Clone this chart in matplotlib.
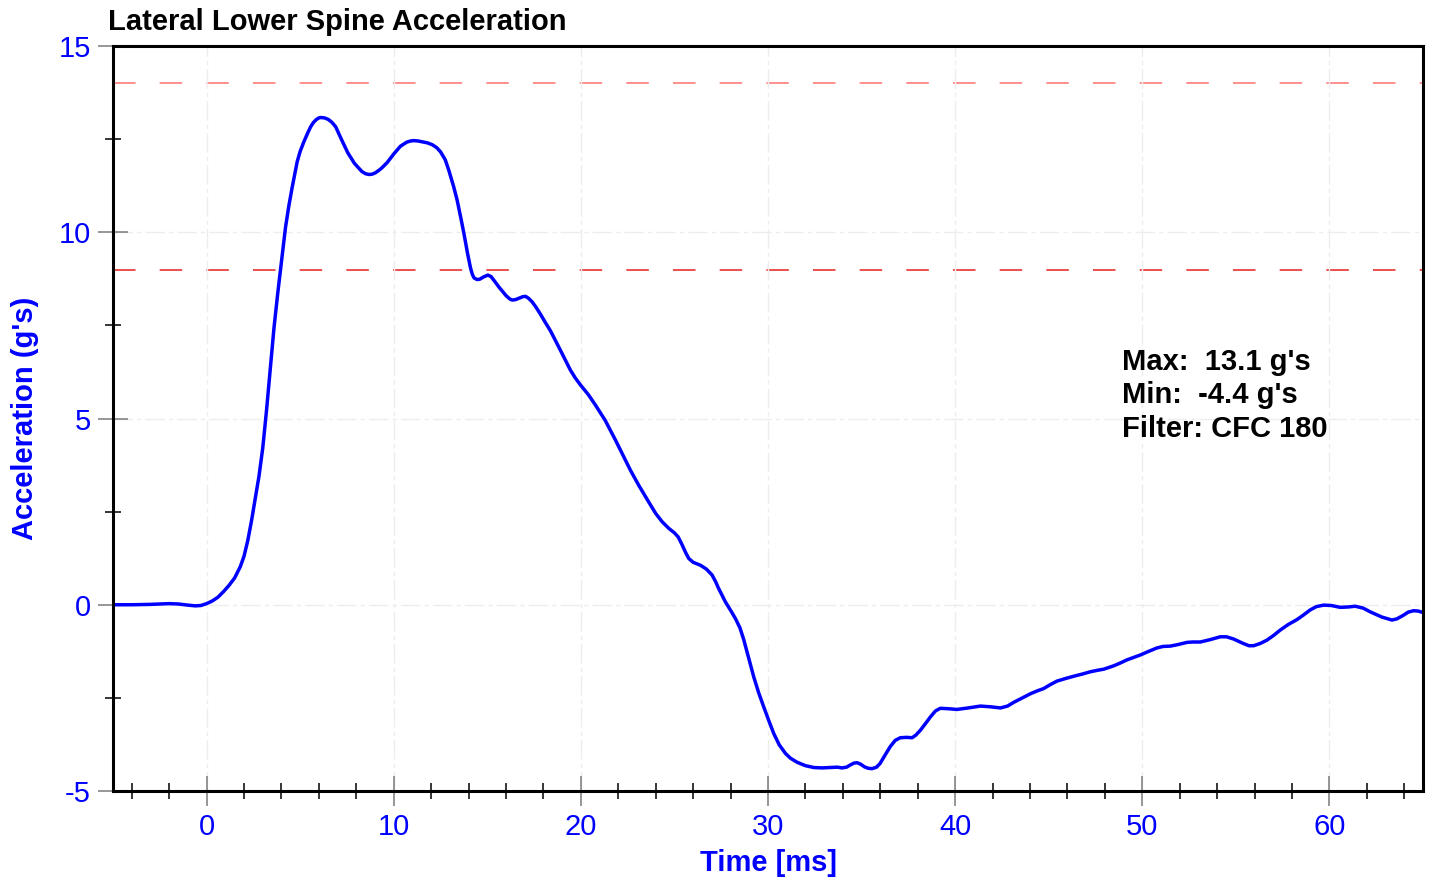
import matplotlib
matplotlib.use("Agg")
import matplotlib.pyplot as plt
from matplotlib.ticker import MultipleLocator

plt.rcParams['font.family'] = ['Liberation Sans', 'DejaVu Sans']
plt.rcParams['axes.unicode_minus'] = False

# Lateral lower spine acceleration trace (time in ms, acceleration in g's)
time_ms = [
    -5.0, -4.0, -3.0, -2.0, -1.5, -1.0, -0.6, -0.3, 0.0, 0.3, 0.6, 0.9, 1.2,
    1.5, 1.8, 2.0, 2.2, 2.4, 2.6, 2.8, 3.0, 3.2, 3.4, 3.6, 3.8, 4.0, 4.22,
    4.4, 4.58, 4.84, 5.0, 5.2, 5.4, 5.56, 5.7, 5.85, 6.0, 6.1, 6.3, 6.5,
    6.7, 6.9, 7.2, 7.55, 7.9, 8.3, 8.5, 8.7, 8.85, 9.0, 9.2, 9.35, 9.65,
    10.0, 10.36, 10.7, 10.9, 11.07, 11.3, 11.5, 11.8, 12.06, 12.3, 12.5,
    12.75, 12.94, 13.2, 13.39, 13.6, 13.75, 13.95, 14.1, 14.2, 14.3, 14.46,
    14.6, 14.8, 15.03, 15.2, 15.4, 15.62, 16.0, 16.2, 16.33, 16.5, 16.7,
    16.9, 17.04, 17.2, 17.4, 17.6, 17.84, 18.1, 18.38, 18.91, 19.44, 19.7,
    19.98, 20.4, 20.78, 21.3, 21.85, 22.65, 23.1, 23.6, 24.0, 24.34, 24.7,
    25.0, 25.2, 25.4, 25.6, 25.77, 26.0, 26.39, 26.7, 27.01, 27.2, 27.35,
    27.72, 28.0, 28.26, 28.5, 28.7, 28.95, 29.24, 29.5, 29.77, 30.05,
    30.31, 30.6, 30.93, 31.2, 31.56, 32.0, 32.45, 32.9, 33.33, 33.7, 33.96,
    34.2, 34.4, 34.6, 34.76, 34.95, 35.15, 35.35, 35.56, 35.8, 35.99,
    36.25, 36.53, 36.8, 37.07, 37.4, 37.7, 37.9, 38.14, 38.4, 38.68, 38.95,
    39.21, 39.6, 40.1, 40.7, 41.35, 41.9, 42.42, 42.8, 43.13, 43.6, 44.02,
    44.4, 44.73, 45.1, 45.44, 45.9, 46.33, 46.8, 47.22, 47.6, 47.94, 48.47,
    48.8, 49.18, 49.5, 49.89, 50.3, 50.78, 51.1, 51.5, 51.9, 52.39, 52.7,
    53.1, 53.6, 54.17, 54.5, 54.88, 55.4, 55.7, 55.95, 56.3, 56.66, 57.0,
    57.37, 57.8, 58.26, 58.6, 58.97, 59.3, 59.69, 60.1, 60.58, 61.0, 61.38,
    61.8, 62.18, 62.8, 63.34, 63.6, 63.96, 64.2, 64.49, 64.75, 65.0,
]
accel_g = [
    0.00, 0.00, 0.01, 0.03, 0.02, -0.01, -0.03, -0.02, 0.03, 0.10, 0.20,
    0.35, 0.52, 0.72, 1.02, 1.30, 1.72, 2.25, 2.85, 3.45, 4.20, 5.20, 6.30,
    7.42, 8.35, 9.20, 10.14, 10.72, 11.22, 11.89, 12.17, 12.43, 12.66,
    12.83, 12.94, 13.02, 13.07, 13.08, 13.07, 13.03, 12.95, 12.83, 12.50,
    12.13, 11.85, 11.63, 11.57, 11.55, 11.56, 11.59, 11.66, 11.72, 11.87,
    12.10, 12.31, 12.42, 12.45, 12.46, 12.45, 12.43, 12.40, 12.35, 12.27,
    12.16, 11.95, 11.67, 11.23, 10.86, 10.35, 9.97, 9.42, 9.05, 8.87, 8.77,
    8.73, 8.74, 8.80, 8.85, 8.81, 8.68, 8.53, 8.30, 8.21, 8.18, 8.19, 8.23,
    8.27, 8.28, 8.23, 8.13, 7.99, 7.80, 7.58, 7.35, 6.83, 6.30, 6.09, 5.90,
    5.64, 5.36, 4.95, 4.42, 3.61, 3.20, 2.78, 2.45, 2.23, 2.05, 1.93, 1.82,
    1.62, 1.40, 1.24, 1.14, 1.06, 0.96, 0.80, 0.62, 0.45, 0.08, -0.15,
    -0.37, -0.62, -0.93, -1.40, -1.94, -2.36, -2.74, -3.12, -3.46, -3.76,
    -3.99, -4.12, -4.23, -4.32, -4.37, -4.38, -4.37, -4.36, -4.38, -4.36,
    -4.30, -4.25, -4.24, -4.28, -4.35, -4.39, -4.40, -4.36, -4.26, -4.04,
    -3.81, -3.64, -3.57, -3.56, -3.57, -3.50, -3.37, -3.20, -3.01, -2.85,
    -2.78, -2.79, -2.81, -2.77, -2.72, -2.74, -2.77, -2.72, -2.62, -2.50,
    -2.39, -2.31, -2.25, -2.14, -2.05, -1.98, -1.92, -1.86, -1.80, -1.76,
    -1.73, -1.64, -1.57, -1.48, -1.42, -1.35, -1.26, -1.16, -1.12, -1.11,
    -1.07, -1.01, -1.00, -1.00, -0.94, -0.86, -0.86, -0.92, -1.04, -1.10,
    -1.10, -1.04, -0.95, -0.83, -0.68, -0.53, -0.40, -0.28, -0.14, -0.05,
    -0.01, -0.02, -0.07, -0.06, -0.04, -0.09, -0.19, -0.33, -0.41, -0.38,
    -0.28, -0.20, -0.16, -0.17, -0.21,
]

# Reference levels (g's)
upper_limit = 14.0
lower_limit = 9.0

title_text = "Lateral Lower Spine Acceleration"
xlabel_text = "Time [ms]"
ylabel_text = "Acceleration (g's)"
stats_lines = ["Max:  13.1 g's", "Min:  -4.4 g's", "Filter: CFC 180"]
stats_y = [6.30, 5.41, 4.50]

fig = plt.figure(figsize=(14.32, 8.84), dpi=100)
ax = fig.add_axes([113 / 1432, 1 - 791 / 884, (1423 - 113) / 1432, (791 - 46) / 884])

ax.set_xlim(-5, 65)
ax.set_ylim(-5, 15)

# faint dash-dot grid
ax.grid(True, which='major', color='#ededed', linewidth=1.0,
        linestyle=(0, (14, 3, 3, 3)), zorder=0)

# reference limit lines
ax.axhline(upper_limit, color='#ff7b7b', linewidth=1.2, dashes=(13.5, 14.5), zorder=1)
ax.axhline(lower_limit, color='#e83030', linewidth=1.2, dashes=(13.5, 14.5), zorder=1)

ax.plot(time_ms, accel_g, color='#0000ff', linewidth=2.5, zorder=3,
        solid_joinstyle='round', solid_capstyle='round', antialiased=True)

# ticks
ax.xaxis.set_major_locator(MultipleLocator(10))
ax.xaxis.set_minor_locator(MultipleLocator(2))
ax.yaxis.set_major_locator(MultipleLocator(5))
ax.yaxis.set_minor_locator(MultipleLocator(2.5))
ax.tick_params(which='major', direction='inout', length=21.5, width=1.1,
               color='#7a7a7a', labelsize=21, labelcolor='#0000ff')
ax.tick_params(which='minor', direction='inout', length=11.5, width=1.1,
               color='black')
ax.tick_params(axis='x', which='major', pad=5)
ax.tick_params(axis='y', which='major', pad=5)
ax.tick_params(top=False, right=False, which='both')

for side in ['left', 'bottom', 'top', 'right']:
    ax.spines[side].set_linewidth(2.2)
    ax.spines[side].set_color('black')
    ax.spines[side].set_zorder(4)

ax.set_xlabel(xlabel_text, fontsize=21, fontweight='bold', color='#0000ff', labelpad=6)
ax.set_ylabel(ylabel_text, fontsize=21, fontweight='bold', color='#0000ff', labelpad=14)

fig.text(108 / 1432, 1 - 30 / 884, title_text, fontsize=21, fontweight='bold',
         color='black', ha='left', va='baseline')

for line, yv in zip(stats_lines, stats_y):
    ax.text(48.93, yv, line, fontsize=21, fontweight='bold', color='black',
            ha='left', va='baseline', zorder=5)

fig.savefig("out.png", dpi=100, facecolor='white')
